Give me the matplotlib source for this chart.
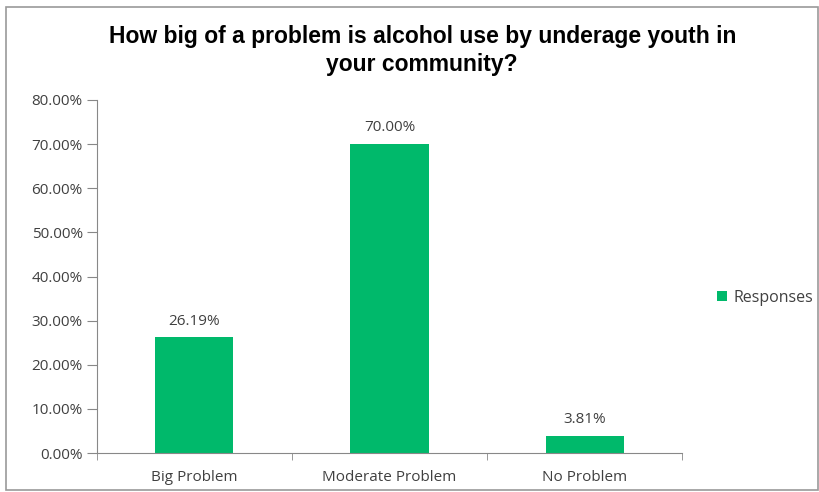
import matplotlib.pyplot as plt
from matplotlib.patches import Rectangle
from matplotlib.ticker import FuncFormatter, MultipleLocator

categories = ["Big Problem", "Moderate Problem", "No Problem"]
responses = [26.19, 70.00, 3.81]
series_name = "Responses"
title = "How big of a problem is alcohol use by underage youth in\nyour community?"

bar_color = "#00B96B"
text_color = "#404040"
font = "Open Sans"

fig = plt.figure(figsize=(8.2, 4.92), dpi=100)
fig.patches.append(
    Rectangle((0.007, 0.005), 0.99, 0.98, transform=fig.transFigure,
              fill=False, edgecolor="#9a9a9a", linewidth=1.2)
)
ax = fig.add_axes([0.118, 0.079, 0.714, 0.718])

x = list(range(len(categories)))
bars = ax.bar(x, responses, width=0.4, color=bar_color, label=series_name)

for b, v in zip(bars, responses):
    ax.text(b.get_x() + b.get_width() / 2, v + 2.0, f"{v:.2f}%",
            ha="center", va="bottom", fontsize=11, color=text_color,
            family=font)

ax.set_xlim(-0.5, len(categories) - 0.5)
ax.set_ylim(0, 80)
ax.yaxis.set_major_locator(MultipleLocator(10))
ax.yaxis.set_major_formatter(FuncFormatter(lambda v, p: f"{v:.2f}%"))
ax.set_xticks(x)
ax.set_xticklabels(categories)
ax.set_xticks([i - 0.5 for i in range(len(categories) + 1)], minor=True)
ax.tick_params(axis="x", which="major", length=0, pad=12)
ax.tick_params(axis="x", which="minor", length=5, color="#888888")
ax.tick_params(axis="y", length=7, color="#888888", pad=3)
ax.tick_params(labelsize=11, labelcolor=text_color)
for lab in ax.get_xticklabels() + ax.get_yticklabels():
    lab.set_family(font)

ax.spines[["top", "right"]].set_visible(False)
ax.spines[["left", "bottom"]].set_color("#888888")

fig.text(0.515, 0.897, title, ha="center", va="center", fontsize=16.5,
         fontweight="bold", family="Liberation Sans", linespacing=1.25)

ax.legend(loc="center left", bbox_to_anchor=(1.035, 0.44), frameon=False,
          handlelength=0.6, handleheight=0.6, handletextpad=0.4,
          prop={"family": font, "size": 11.5}, labelcolor=text_color)

fig.savefig("out.png", dpi=100)
